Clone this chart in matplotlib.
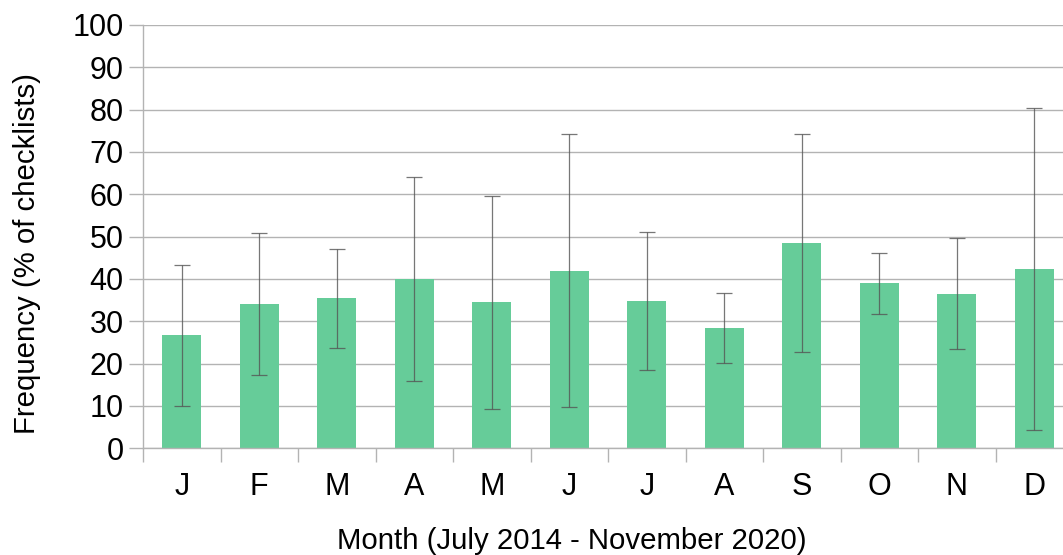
import matplotlib
matplotlib.use("Agg")
import matplotlib.pyplot as plt
import numpy as np

months = ["J", "F", "M", "A", "M", "J", "J", "A", "S", "O", "N", "D"]
freq = [26.8, 34.1, 35.5, 40.0, 34.6, 41.9, 34.8, 28.4, 48.5, 39.1, 36.5, 42.4]
err_low = [10.1, 17.2, 23.6, 15.8, 9.4, 9.7, 18.4, 20.1, 22.7, 31.7, 23.4, 4.3]
err_high = [43.2, 50.8, 47.2, 64.0, 59.5, 74.2, 51.0, 36.7, 74.3, 46.2, 49.6, 80.3]

plt.rcParams['font.family'] = ['Liberation Sans', 'DejaVu Sans']

W, H = 1063, 555
fig = plt.figure(figsize=(W / 100, H / 100), dpi=100)
# plot area runs past the right edge of the picture, as in the original
ax = fig.add_axes([143 / W, (H - 448.3) / H, 930 / W, 423.3 / H])

x = np.arange(len(months))
f = np.array(freq)
yerr = [f - np.array(err_low), np.array(err_high) - f]

ax.bar(x, f, width=0.5, color="#66cc99", zorder=2)
ax.errorbar(x, f, yerr=yerr, fmt="none", ecolor="#555555", elinewidth=0.9,
            capsize=5.5, capthick=0.9, alpha=0.8, zorder=3)

ax.set_xlim(-0.5, len(months) - 0.5)
ax.set_ylim(0, 100)
ax.set_yticks(np.arange(0, 101, 10))
ax.set_xticks(x)
ax.set_xticklabels(months)
ax.set_xticks(np.arange(-0.5, len(months), 1), minor=True)
ax.tick_params(axis="x", which="major", length=0, pad=17, labelsize=22)
ax.tick_params(axis="x", which="minor", length=10, color="#b3b3b3", width=1)
ax.tick_params(axis="y", length=10, color="#b3b3b3", width=1, labelsize=22, pad=4)

ax.grid(axis="y", color="#b3b3b3", linewidth=1, zorder=0)
ax.set_axisbelow(True)
for s in ["top", "right"]:
    ax.spines[s].set_visible(False)
for s in ["left", "bottom"]:
    ax.spines[s].set_color("#b3b3b3")
    ax.spines[s].set_linewidth(1)

fig.text(572 / W, 1 - 541 / H, "Month (July 2014 - November 2020)", fontsize=21.2,
         ha="center", va="center")
fig.text(27 / W, 1 - 254 / H, "Frequency (% of checklists)", fontsize=21.2,
         ha="center", va="center", rotation=90)

fig.savefig("out.png", dpi=100)
